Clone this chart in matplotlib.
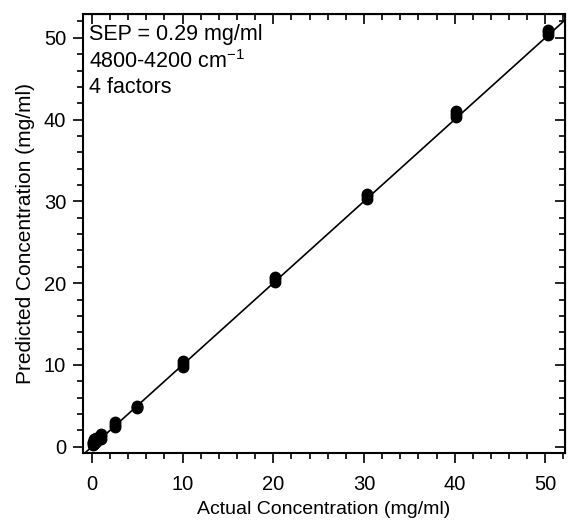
import matplotlib
matplotlib.use('Agg')
import matplotlib.pyplot as plt
from matplotlib.ticker import MultipleLocator

plt.rcParams['font.family'] = ['Liberation Sans', 'DejaVu Sans']

# actual vs predicted concentration (mg/ml), several replicates per level
actual = [0.1, 0.1, 0.1, 0.25, 0.25, 0.25, 0.5, 0.5, 0.5, 1.0, 1.0, 1.0,
          2.5, 2.5, 2.5, 5.0, 5.0, 5.0, 10.0, 10.0, 10.0, 20.2, 20.2, 20.2,
          30.3, 30.3, 30.3, 40.1, 40.1, 40.1, 50.3, 50.3, 50.3]
predicted = [0.2, 0.4, 0.6, 0.3, 0.6, 0.9, 0.6, 0.9, 1.1, 1.0, 1.3, 1.5,
             2.4, 2.7, 3.0, 4.7, 4.9, 5.0, 9.7, 10.1, 10.5, 20.2, 20.5, 20.8,
             30.3, 30.6, 30.9, 40.3, 40.7, 41.1, 50.4, 50.7, 51.0]
ideal = [-1, 52]

fig = plt.figure(figsize=(5.71, 5.21), dpi=100)
ax = fig.add_axes([0.145, 0.13, 0.845, 0.843])

ax.plot(ideal, ideal, color='black', lw=1.2)
ax.plot(actual, predicted, 'o', color='black', ms=7.5)

ax.set_xlim(-1, 52.2)
ax.set_ylim(-0.8, 52.9)
ax.xaxis.set_major_locator(MultipleLocator(10))
ax.xaxis.set_minor_locator(MultipleLocator(2))
ax.yaxis.set_major_locator(MultipleLocator(10))
ax.yaxis.set_minor_locator(MultipleLocator(2))
ax.tick_params(which='both', direction='out', width=1.2, labelsize=14.5)
ax.tick_params(which='major', length=7)
ax.tick_params(which='minor', length=4)
ax.tick_params(axis='x', pad=9)
ax.tick_params(axis='y', pad=5)

# inward ticks on top and right
ax2 = ax.secondary_xaxis('top')
ax2.xaxis.set_major_locator(MultipleLocator(10))
ax2.xaxis.set_minor_locator(MultipleLocator(2))
ax2.tick_params(which='both', direction='in', width=1.2, labeltop=False)
ax2.tick_params(which='major', length=7)
ax2.tick_params(which='minor', length=4)
ax3 = ax.secondary_yaxis('right')
ax3.yaxis.set_major_locator(MultipleLocator(10))
ax3.yaxis.set_minor_locator(MultipleLocator(2))
ax3.tick_params(which='both', direction='in', width=1.2, labelright=False)
ax3.tick_params(which='major', length=7)
ax3.tick_params(which='minor', length=4)

for s in ax.spines.values():
    s.set_linewidth(1.5)

ax.set_xlabel('Actual Concentration (mg/ml)', fontsize=14, labelpad=5)
ax.set_ylabel('Predicted Concentration (mg/ml)', fontsize=15, labelpad=6)

ax.text(0.012, 0.977, 'SEP = 0.29 mg/ml\n4800-4200 cm$^{\\mathregular{-1}}$\n4 factors',
        transform=ax.transAxes, va='top', ha='left', fontsize=15.5, linespacing=1.25)

fig.savefig('out.png', dpi=100)
